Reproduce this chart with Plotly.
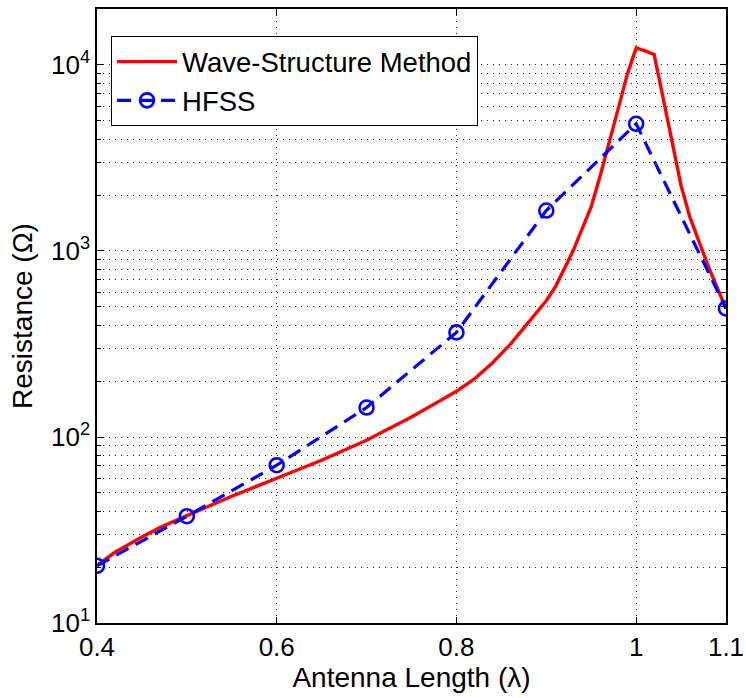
import plotly.graph_objects as go

# Wave-Structure Method (red solid curve)
wsm_x = [0.40, 0.42, 0.45, 0.47, 0.50, 0.55, 0.60, 0.65, 0.70, 0.75, 0.78, 0.80, 0.82, 0.84, 0.86, 0.88,
         0.90, 0.91, 0.92, 0.93, 0.94, 0.95, 0.96, 0.97, 0.98, 0.99, 1.00, 1.01, 1.02,
         1.03, 1.04, 1.05, 1.06, 1.07, 1.08, 1.09, 1.10]
wsm_y = [20.4, 24.0, 29.0, 32.6, 37.8, 48.0, 60.0, 75.0, 96.0, 128, 155, 176, 205, 250, 315, 410,
         540, 640, 804, 1005, 1318, 1730, 2540, 3770, 5810, 8850, 12360, 11900, 11400,
         6650, 3860, 2245, 1510, 1110, 835, 637, 491]

# HFSS (blue dashed with circles)
hfss_x = [0.4, 0.5, 0.6, 0.7, 0.8, 0.9, 1.0, 1.1]
hfss_y = [20.3, 37.5, 70.5, 144, 365, 1650, 4830, 491]

x_ticks = [0.4, 0.6, 0.8, 1.0, 1.1]
x_ticktext = ["0.4", "0.6", "0.8", "1", "1.1"]
y_ticks = [10, 100, 1000, 10000]
y_ticktext = ["10<sup>1</sup>", "10<sup>2</sup>", "10<sup>3</sup>", "10<sup>4</sup>"]
y_minor = [m * 10 ** e for e in (1, 2, 3) for m in range(2, 10)] + [20000]

FONT = "Liberation Sans, Arial, sans-serif"

fig = go.Figure()
fig.add_trace(go.Scatter(
    x=wsm_x, y=wsm_y, mode="lines", name="Wave-Structure Method",
    line=dict(color="#ff0000", width=3.4),
))
fig.add_trace(go.Scatter(
    x=hfss_x, y=hfss_y, mode="lines+markers", name="HFSS",
    line=dict(color="#0000ff", width=3.2, dash="14px,8px"),
    marker=dict(symbol="circle-open", size=14, color="#0000ff", line=dict(width=2.6, color="#0000ff")),
))

grid = dict(showgrid=True, gridcolor="#222222", gridwidth=1, griddash="1px,5px")

fig.update_xaxes(
    range=[0.4, 1.1], tickmode="array", tickvals=x_ticks, ticktext=x_ticktext,
    ticks="inside", ticklen=6, tickwidth=1.2, tickcolor="black",
    showline=True, linecolor="black", linewidth=1.5, mirror="allticks",
    zeroline=False, automargin=False,
    tickfont=dict(size=26, color="black", family=FONT),
    title=dict(text="Antenna Length (λ)", font=dict(size=28, color="black", family=FONT), standoff=4),
    **grid,
)
fig.update_yaxes(
    type="log", range=[1, 4.30103], tickmode="array", tickvals=y_ticks, ticktext=y_ticktext,
    ticks="inside", ticklen=6, tickwidth=1.2, tickcolor="black",
    showline=True, linecolor="black", linewidth=1.5, mirror="allticks",
    zeroline=False, automargin=False,
    tickfont=dict(size=26, color="black", family=FONT),
    title=dict(text="Resistance (Ω)", font=dict(size=28, color="black", family=FONT), standoff=10),
    minor=dict(tickmode="array", tickvals=y_minor, ticks="inside", ticklen=4, tickcolor="black",
               showgrid=True, gridcolor="#222222", gridwidth=1, griddash="1px,5px"),
    **grid,
)

fig.update_layout(
    width=746, height=698,
    margin=dict(l=97, r=20, t=9, b=75),
    paper_bgcolor="white", plot_bgcolor="white",
    font=dict(family=FONT, color="black"),
    showlegend=True,
    legend=dict(
        x=0.022, y=0.956, xanchor="left", yanchor="top",
        bgcolor="white", bordercolor="black", borderwidth=1.2,
        font=dict(size=27.5, color="black", family=FONT),
        itemwidth=60, tracegroupgap=0,
    ),
)

fig.write_html("out.html")
